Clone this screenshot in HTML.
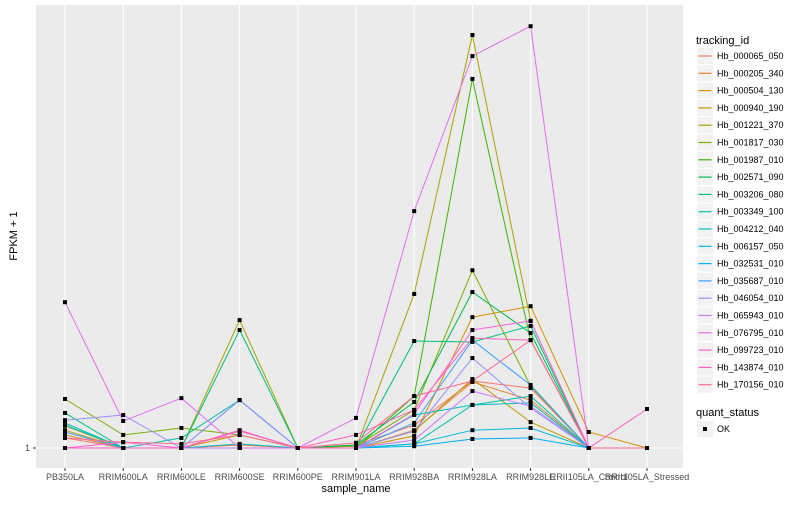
<!DOCTYPE html>
<html><head><meta charset="utf-8"><style>
body{margin:0;background:#fff;}
svg text{font-family:"Liberation Sans",sans-serif;}
</style></head><body>
<svg id="chart" width="800" height="500" xmlns="http://www.w3.org/2000/svg">
<rect x="36" y="5" width="647" height="463" fill="#EBEBEB"/>
<g id="grid"></g><g id="lines"></g><g id="pts"></g><g id="axes"></g><g id="legend"></g>
<text x="356" y="492" font-size="11" text-anchor="middle" fill="#000">sample_name</text>
<text transform="translate(17,236) rotate(-90)" font-size="11" text-anchor="middle" fill="#000">FPKM + 1</text>
</svg>
<script>
const categories=["PB350LA","RRIM600LA","RRIM600LE","RRIM600SE","RRIM600PE","RRIM901LA","RRIM928BA","RRIM928LA","RRIM928LE","RRII105LA_Control","RRII105LA_Stressed"];
const seriesNames=["Hb_000065_050","Hb_000205_340","Hb_000504_130","Hb_000940_190","Hb_001221_370","Hb_001817_030","Hb_001987_010","Hb_002571_090","Hb_003206_080","Hb_003349_100","Hb_004212_040","Hb_006157_050","Hb_032531_010","Hb_035687_010","Hb_046054_010","Hb_065943_010","Hb_076795_010","Hb_099723_010","Hb_143874_010","Hb_170156_010"];
const seriesColors=["#F8766D","#EA8331","#D89000","#C09B00","#A3A500","#7CAE00","#39B600","#00BB4E","#00BF7D","#00C1A3","#00BFC4","#00BAE0","#00B0F6","#35A2FF","#9590FF","#C77CFF","#E76BF3","#FA62DB","#FF62BC","#FF6C91"];
const s0=[1.18,1,1,1,1,1.05,1.46,3.01,2.68,1,1];
const s1=[1.24,1,1,1.05,1,1,1.34,2.96,2.2,1,1];
const s2=[1.44,1,1,1,1,1,1.22,8.6,10.3,1.3,1];
const s3=[1.34,1,1,1.24,1,1,1.32,3.11,1.53,1,1];
const s4=[1,1,1,8.2,1,1,12.6,891,8.09,1,1];
const s5=[2.24,1.24,1.39,1.24,1,1.03,1.87,18.6,2.77,1,1];
const s6=[1,1,1,1,1,1,2.35,433,5.9,1,1];
const s7=[1,1,1,1,1,1.05,2.13,13,6.62,1,1];
const s8=[1.78,1,1,6.96,1,1,5.81,5.72,7.45,1,1];
const s9=[1.51,1,1.18,2.2,1,1,1.07,2.03,2.35,1,1];
const s10=[1.46,1,1,1.07,1,1,1.72,2.03,2.1,1,1];
const s11=[1,1,1,1,1,1,1.07,1.34,1.39,1,1];
const s12=[1,1,1,1,1,1,1.03,1.16,1.18,1,1];
const s13=[1.3,1,1,2.2,1,1,1.51,5.9,2.82,1,1];
const s14=[1.58,1.72,1,2.2,1,1,1.32,4.39,1.93,1,1];
const s15=[1,1,1,1,1,1,1.14,2.55,1.99,1,1];
const s16=[11,1.56,2.27,1,1,1.64,49.2,630,1030,1,1];
const s17=[1,1.1,1,1.32,1,1,1.75,6.96,8.09,1,1];
const s18=[1,1,1,1.34,1,1.24,1.87,6.1,5.9,1,1.9];
const s19=[1.18,1.1,1.07,1.24,1,1.09,2.35,3.01,5.9,1,1];
const seriesValues=[s0,s1,s2,s3,s4,s5,s6,s7,s8,s9,s10,s11,s12,s13,s14,s15,s16,s17,s18,s19];
const yTicks=[1];
const NS="http://www.w3.org/2000/svg";
function xs(i){return 65+i*58.2;}
function ys(v){return 448-140*Math.log10(v);}
function mk(tag,attrs,parent){const e=document.createElementNS(NS,tag);for(const k in attrs)e.setAttribute(k,attrs[k]);document.getElementById(parent).appendChild(e);return e;}
categories.forEach((c,i)=>{
  const g=mk('line',{x1:xs(i),x2:xs(i),y1:5,y2:468,stroke:'#fff','stroke-width':1.1},'grid');
  
  
  const t=mk('line',{x1:xs(i),x2:xs(i),y1:468,y2:471,stroke:'#333','stroke-width':1},'axes');
  
  
  const l=mk('text',{x:xs(i),y:480,'font-size':9,'text-anchor':'middle',fill:'#4D4D4D'},'axes');
  l.textContent=c;
  
  
});
yTicks.forEach(v=>{
  const g=mk('line',{x1:36,x2:683,y1:ys(v),y2:ys(v),stroke:'#fff','stroke-width':1.1},'grid');
  
  
  const t=mk('line',{x1:33,x2:36,y1:ys(v),y2:ys(v),stroke:'#333','stroke-width':1},'axes');
  
  
  const l=mk('text',{x:30,y:ys(v)+3,'font-size':9,'text-anchor':'end',fill:'#4D4D4D'},'axes');
  l.textContent=String(v);
  
  
});
seriesValues.forEach((vals,si)=>{
  const pts=vals.map((v,i)=>xs(i).toFixed(1)+','+ys(v).toFixed(1)).join(' ');
  const p=mk('polyline',{points:pts,fill:'none',stroke:seriesColors[si],'stroke-width':1},'lines');
  
  
  vals.forEach((v,i)=>{
    const r=mk('rect',{x:xs(i)-2,y:ys(v)-2,width:4,height:4,fill:'#000'},'pts');
    
    
  });
});
const lt=mk('text',{x:696,y:44,'font-size':11,fill:'#000'},'legend');
lt.textContent='tracking_id';


seriesNames.forEach((n,i)=>{
  const y=56+i*17.3;
  const b=mk('rect',{x:697,y:y-8,width:16,height:16,fill:'#F2F2F2'},'legend');
  
  
  const l=mk('line',{x1:698.5,x2:711.5,y1:y,y2:y,stroke:seriesColors[i],'stroke-width':1.2},'legend');
  
  
  const t=mk('text',{x:717,y:y+3,'font-size':9,fill:'#000'},'legend');
  t.textContent=n;
  
  
});
const qt=mk('text',{x:696,y:416,'font-size':11,fill:'#000'},'legend');
qt.textContent='quant_status';


const qb=mk('rect',{x:697,y:421,width:16,height:16,fill:'#F2F2F2'},'legend');


const qp=mk('rect',{x:703,y:427,width:4,height:4,fill:'#000'},'legend');


const qtx=mk('text',{x:717,y:432,'font-size':9,fill:'#000'},'legend');
qtx.textContent='OK';


</script>
</body></html>
